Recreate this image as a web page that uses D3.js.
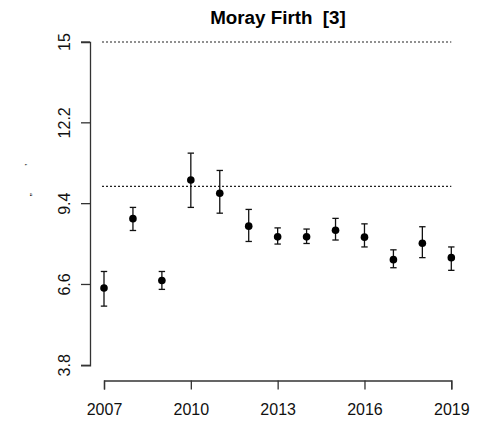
<!DOCTYPE html>
<html>
<head>
<meta charset="utf-8">
<script src="https://cdn.jsdelivr.net/npm/d3@7"></script>
<style>
  body { margin: 0; background: #fff; }
  svg { display: block; font-family: "Liberation Sans", Arial, sans-serif; }
</style>
</head>
<body>
<svg width="495" height="422"></svg>
<script>
// data
const years = [2007, 2008, 2009, 2010, 2011, 2012, 2013, 2014, 2015, 2016, 2017, 2018, 2019];
const means = [6.48, 8.88, 6.74, 10.22, 9.76, 8.62, 8.25, 8.25, 8.48, 8.24, 7.46, 8.03, 7.53];
const upper = [7.05, 9.27, 7.05, 11.15, 10.55, 9.20, 8.56, 8.52, 8.89, 8.70, 7.80, 8.60, 7.90];
const lower = [5.85, 8.47, 6.43, 9.27, 9.07, 8.09, 8.00, 8.02, 8.14, 7.90, 7.18, 7.53, 7.09];
const refLines = [15, 10];
const yTicks = [3.8, 6.6, 9.4, 12.2, 15];
const xTicks = [2007, 2010, 2013, 2016, 2019];

const svg = d3.select("svg");

const x = d3.scaleLinear().domain([2007, 2019]).range([104, 451.3]);
const y = d3.scaleLinear().domain([3.8, 15]).range([365.3, 42]);

// title
svg.append("text")
    .attr("x", 278)
    .attr("y", 24)
    .attr("text-anchor", "middle")
    .attr("font-weight", "bold")
    .attr("font-size", 18.8)
    .attr("xml:space", "preserve")
    .text("Moray Firth  [3]");

// dotted reference lines
svg.selectAll("line.ref")
    .data(refLines)
    .enter()
    .append("line")
    .attr("class", "ref")
    .attr("x1", x(2007) - 2)
    .attr("x2", x(2019))
    .attr("y1", d => y(d))
    .attr("y2", d => y(d))
    .attr("stroke", "#222")
    .attr("stroke-width", 1.1)
    .attr("stroke-dasharray", "2,2");

// y axis
const yAxis = svg.append("g")
    .attr("transform", "translate(90,0)")
    .call(d3.axisLeft(y).tickValues(yTicks).tickSizeOuter(0).tickSize(9).tickFormat(d3.format("")));
yAxis.selectAll("path, line").attr("stroke", "#333").attr("stroke-width", 1.3);
yAxis.selectAll("text")
    .attr("font-size", 16)
    .attr("fill", "#111")
    .attr("font-family", "Liberation Sans, Arial, sans-serif")
    .attr("transform", d => "translate(-20," + y(d) + ") rotate(-90)")
    .attr("x", 0)
    .attr("y", 0)
    .attr("dy", 0)
    .attr("text-anchor", "middle");
yAxis.selectAll(".tick").attr("transform", null);
yAxis.selectAll(".tick line")
    .attr("y1", d => y(d))
    .attr("y2", d => y(d));

// x axis
const xAxis = svg.append("g")
    .attr("transform", "translate(0,380.5)")
    .call(d3.axisBottom(x).tickValues(xTicks).tickSizeOuter(0).tickSize(9).tickFormat(d3.format("d")));
xAxis.selectAll("path, line").attr("stroke", "#333").attr("stroke-width", 1.3);
xAxis.selectAll("text")
    .attr("font-size", 16)
    .attr("fill", "#111")
    .attr("font-family", "Liberation Sans, Arial, sans-serif")
    .attr("dy", 0)
    .attr("y", 34.5);

// y label (marks that barely render in the original)
svg.append("text")
    .attr("transform", "translate(31,180) rotate(-90)")
    .attr("text-anchor", "middle")
    .attr("font-size", 9)
    .attr("xml:space", "preserve")
    .text("\u201E           \u2019");

// error bars
const bars = svg.append("g").selectAll("g")
    .data(years)
    .enter()
    .append("g");

bars.append("line")
    .attr("x1", d => x(d)).attr("x2", d => x(d))
    .attr("y1", (d, i) => y(upper[i])).attr("y2", (d, i) => y(lower[i]))
    .attr("stroke", "#111").attr("stroke-width", 1.3);
bars.append("line")
    .attr("x1", d => x(d) - 3.2).attr("x2", d => x(d) + 3.2)
    .attr("y1", (d, i) => y(upper[i])).attr("y2", (d, i) => y(upper[i]))
    .attr("stroke", "#111").attr("stroke-width", 1.3);
bars.append("line")
    .attr("x1", d => x(d) - 3.2).attr("x2", d => x(d) + 3.2)
    .attr("y1", (d, i) => y(lower[i])).attr("y2", (d, i) => y(lower[i]))
    .attr("stroke", "#111").attr("stroke-width", 1.3);
bars.append("circle")
    .attr("cx", d => x(d))
    .attr("cy", (d, i) => y(means[i]))
    .attr("r", 3.8)
    .attr("fill", "#000");
</script>
</body>
</html>
